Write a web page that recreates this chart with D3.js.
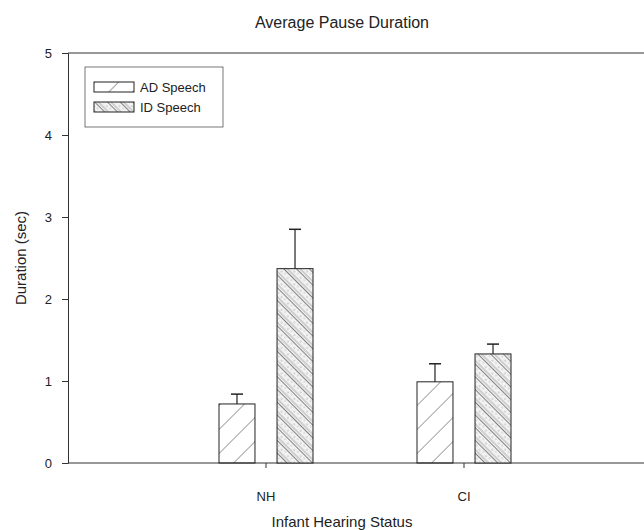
<!DOCTYPE html>
<html>
<head>
<meta charset="utf-8">
<script src="https://cdn.jsdelivr.net/npm/d3@7"></script>
<style>
  body { margin: 0; background: #fff; }
  text { font-family: "Liberation Sans", Arial, sans-serif; fill: #222; }
</style>
</head>
<body>
<div id="chart"></div>
<script>
// data
const groups = ["NH", "CI"];
const series = ["AD Speech", "ID Speech"];
const meanAD = [0.72, 0.99];
const meanID = [2.37, 1.33];
const errAD = [0.12, 0.22];
const errID = [0.48, 0.12];
const yTicks = [0, 1, 2, 3, 4, 5];

const W = 644, H = 530;
const plotLeft = 68, plotRight = 644, plotTop = 53, plotBottom = 463;

const svg = d3.select("#chart").append("svg")
  .attr("width", W).attr("height", H);

// hatch patterns
const defs = svg.append("defs");
const pAD = defs.append("pattern")
  .attr("id", "hatchAD").attr("patternUnits", "userSpaceOnUse")
  .attr("width", 17).attr("height", 17)
  .attr("patternTransform", "rotate(45)");
pAD.append("line").attr("x1", 0).attr("y1", 0).attr("x2", 0).attr("y2", 17)
  .attr("stroke", "#444").attr("stroke-width", 1);

const pID = defs.append("pattern")
  .attr("id", "hatchID").attr("patternUnits", "userSpaceOnUse")
  .attr("width", 9).attr("height", 9)
  .attr("patternTransform", "rotate(-45)");
pID.append("rect").attr("width", 9).attr("height", 9).attr("fill", "#f2f2f2");
pID.append("line").attr("x1", 0).attr("y1", 0).attr("x2", 0).attr("y2", 9)
  .attr("stroke", "#333").attr("stroke-width", 1.2);
pID.append("line").attr("x1", 3).attr("y1", 0).attr("x2", 3).attr("y2", 9)
  .attr("stroke", "#999").attr("stroke-width", 0.8);
pID.append("circle").attr("cx", 6).attr("cy", 3).attr("r", 0.6).attr("fill", "#777");
pID.append("circle").attr("cx", 7).attr("cy", 7).attr("r", 0.5).attr("fill", "#888");

const fills = ["url(#hatchAD)", "url(#hatchID)"];

// scales
const x0 = d3.scaleBand().domain(groups).range([167, 563]).padding(0);
const x1 = d3.scaleBand().domain(series)
  .range([x0.bandwidth() / 2 - 47, x0.bandwidth() / 2 + 47])
  .paddingInner(0.38);
const y = d3.scaleLinear().domain([0, 5]).range([plotBottom, plotTop]);

// frame: top line
svg.append("line")
  .attr("x1", plotLeft).attr("x2", plotRight).attr("y1", plotTop).attr("y2", plotTop)
  .attr("stroke", "#333").attr("stroke-width", 1);

// y axis
const yAxis = svg.append("g")
  .attr("transform", `translate(${plotLeft},0)`)
  .call(d3.axisLeft(y).tickValues(yTicks).tickFormat(d3.format("d")).tickSize(6).tickPadding(10));
yAxis.select(".domain").attr("stroke", "#333");
yAxis.selectAll(".tick line").attr("stroke", "#333");
yAxis.selectAll("text").attr("font-size", 13).attr("fill", "#222");

// x axis
const xAxis = svg.append("g")
  .attr("transform", `translate(0,${plotBottom})`)
  .call(d3.axisBottom(x0).tickSize(5).tickPadding(24).tickSizeOuter(0));
xAxis.select(".domain").attr("d", `M${plotLeft},0H${plotRight}`).attr("stroke", "#333");
xAxis.selectAll(".tick line").attr("stroke", "#333");
xAxis.selectAll("text").attr("font-size", 13).attr("fill", "#222");

// bars
const rows = groups.map((g, i) => ({
  group: g,
  vals: [
    { s: series[0], v: meanAD[i], e: errAD[i], k: 0 },
    { s: series[1], v: meanID[i], e: errID[i], k: 1 }
  ]
}));

const gGroups = svg.selectAll(".grp").data(rows).enter().append("g")
  .attr("class", "grp")
  .attr("transform", d => `translate(${x0(d.group)},0)`);

const bars = gGroups.selectAll(".bar").data(d => d.vals).enter().append("g");

bars.append("rect")
  .attr("x", d => x1(d.s))
  .attr("y", d => y(d.v))
  .attr("width", x1.bandwidth())
  .attr("height", d => y(0) - y(d.v))
  .attr("fill", d => fills[d.k])
  .attr("stroke", "#222").attr("stroke-width", 1);

// error bars (upper only)
bars.append("line")
  .attr("x1", d => x1(d.s) + x1.bandwidth() / 2)
  .attr("x2", d => x1(d.s) + x1.bandwidth() / 2)
  .attr("y1", d => y(d.v))
  .attr("y2", d => y(d.v + d.e))
  .attr("stroke", "#222").attr("stroke-width", 1.2);
bars.append("line")
  .attr("x1", d => x1(d.s) + x1.bandwidth() / 2 - 6)
  .attr("x2", d => x1(d.s) + x1.bandwidth() / 2 + 6)
  .attr("y1", d => y(d.v + d.e))
  .attr("y2", d => y(d.v + d.e))
  .attr("stroke", "#222").attr("stroke-width", 1.5);

// legend
const lg = svg.append("g").attr("transform", "translate(85,67)");
lg.append("rect").attr("width", 138).attr("height", 60)
  .attr("fill", "#fff").attr("stroke", "#555").attr("stroke-width", 0.8);
series.forEach((s, i) => {
  const row = lg.append("g").attr("transform", `translate(9,${15 + i * 20})`);
  row.append("rect").attr("width", 40).attr("height", 10)
    .attr("fill", fills[i]).attr("stroke", "#222").attr("stroke-width", 1);
  row.append("text").attr("x", 46).attr("y", 10)
    .attr("font-size", 13).text(s);
});

// titles
svg.append("text").attr("x", 342).attr("y", 28)
  .attr("text-anchor", "middle").attr("font-size", 16)
  .text("Average Pause Duration");
svg.append("text").attr("x", 342).attr("y", 527)
  .attr("text-anchor", "middle").attr("font-size", 15)
  .text("Infant Hearing Status");
svg.append("text")
  .attr("transform", "translate(26,258) rotate(-90)")
  .attr("text-anchor", "middle").attr("font-size", 15)
  .text("Duration (sec)");
</script>
</body>
</html>
